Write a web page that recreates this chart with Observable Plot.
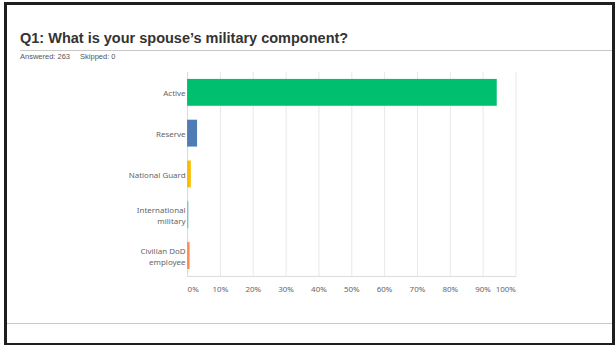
<!DOCTYPE html>
<html>
<head>
<meta charset="utf-8">
<script src="https://cdn.jsdelivr.net/npm/d3@7"></script>
<script src="https://cdn.jsdelivr.net/npm/@observablehq/plot@0.6"></script>
<style>
  html, body { margin: 0; padding: 0; background: #fff; }
  body { width: 615px; height: 345px; position: relative; overflow: hidden; font-family: "Liberation Sans", Arial, sans-serif; }
  #frame { position: absolute; left: 4px; top: 2px; width: 605px; height: 338px; border: 3px solid #1e1e1e; box-sizing: content-box; overflow: hidden; }
  #title { position: absolute; left: 13px; top: 25px; font-size: 14.5px; font-weight: bold; color: #333; white-space: nowrap; }
  #rule { position: absolute; left: 13px; right: 0; top: 45px; height: 0; border-top: 1px solid #c8c8c8; }
  #sub { position: absolute; left: 13px; top: 47px; font-size: 7.5px; color: #555; white-space: nowrap; }
  #sub span { margin-right: 10px; }
  #bottomrule { position: absolute; left: 0; right: 0; top: 318px; height: 0; border-top: 1px solid #c8c8c8; }
  #chart { position: absolute; left: -7px; top: 55px; }
</style>
</head>
<body>
<div id="frame">
  <div id="title"></div>
  <div id="rule"></div>
  <div id="sub"></div>
  <div id="chart"></div>
  <div id="bottomrule"></div>
</div>
<script>
const titleText = "Q1: What is your spouse\u2019s military component?";
const answeredText = "Answered: 263";
const skippedText = "Skipped: 0";
const categories = ["Active", "Reserve", "National Guard", "International\nmilitary", "Civilian DoD\nemployee"];
const values = [94.30, 3.04, 1.14, 0.38, 0.76];
const barColors = ["#00bf6f", "#507cb6", "#f9be00", "#6bc8cd", "#ff8b4f"];
const xTicks = [0, 10, 20, 30, 40, 50, 60, 70, 80, 90, 100];

document.getElementById("title").textContent = titleText;
const sub = document.getElementById("sub");
const s1 = document.createElement("span"); s1.textContent = answeredText;
const s2 = document.createElement("span"); s2.textContent = skippedText;
sub.append(s1, s2);

const data = categories.map((c, i) => ({category: c, value: values[i]}));
const fmt = d => d + "%";
const tickFont = {fontSize: 8, fill: "#666"};

const chart = Plot.plot({
  width: 615,
  height: 250,
  marginLeft: 188,
  marginRight: 97,
  marginTop: 12,
  marginBottom: 33,
  style: {fontFamily: "'Noto Sans', sans-serif", fontSize: "8px", color: "#666", background: "transparent"},
  x: {domain: [0, 100]},
  y: {domain: categories, padding: 0},
  color: {domain: categories, range: barColors},
  marks: [
    Plot.gridX(xTicks, {stroke: "#e8e8e8", strokeOpacity: 1}),
    Plot.ruleX([0], {stroke: "#dcdcdc"}),
    Plot.frame({anchor: "bottom", stroke: "#dcdcdc"}),
    Plot.barX(data, {y: "category", x: "value", fill: "category", insetTop: 7, insetBottom: 7}),
    Plot.axisY({tickSize: 0, tickPadding: 2, fill: "#666", fontSize: 8, lineHeight: 1.4, label: null}),
    Plot.axisX([0], {tickSize: 0, tickPadding: 10, tickFormat: fmt, textAnchor: "start", label: null, ...tickFont}),
    Plot.axisX(xTicks.slice(1, -1), {tickSize: 0, tickPadding: 10, tickFormat: fmt, label: null, ...tickFont}),
    Plot.axisX([100], {tickSize: 0, tickPadding: 10, tickFormat: fmt, textAnchor: "end", label: null, ...tickFont})
  ]
});
document.getElementById("chart").append(chart);
</script>
</body>
</html>
